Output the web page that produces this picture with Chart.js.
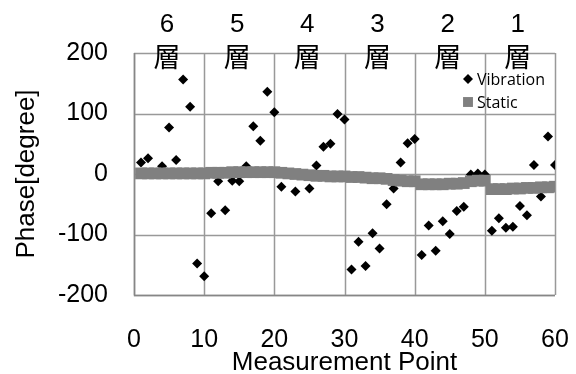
<!DOCTYPE html>
<html lang="ja">
<head>
  <meta charset="UTF-8">
  <title>Phase vs Measurement Point</title>
  <script src="https://cdn.jsdelivr.net/npm/chart.js"></script>
  <style>
    body { margin: 0; background: #fff; }
  </style>
</head>
<body>
  <canvas id="phaseChart" width="576" height="374"></canvas>

  <script>
    // measurement points 1..60
    const points = [1, 2, 3, 4, 5, 6, 7, 8, 9, 10,
      11, 12, 13, 14, 15, 16, 17, 18, 19, 20,
      21, 22, 23, 24, 25, 26, 27, 28, 29, 30,
      31, 32, 33, 34, 35, 36, 37, 38, 39, 40,
      41, 42, 43, 44, 45, 46, 47, 48, 49, 50,
      51, 52, 53, 54, 55, 56, 57, 58, 59, 60];

    const vibration = [19, 26, 2, 13, 77, 23, 156, 111, -148, -169,
      -65, -12, -60, -11, -12, 13, 79, 55, 136, 102,
      -21, 0, -29, 0, -24, 14, 45, 50, 99, 90,
      -158, -112, -152, -98, -123, -50, -24, 19, 51, 58,
      -134, -85, -127, -78, -99, -61, -54, -1, 1, -1,
      -94, -73, -89, -87, -53, -68, 15, -37, 62, 15];

    const staticPhase = [1, 1, 1, 1, 1, 1, 1, 1, 1, 1,
      2, 2, 2, 3, 3, 3, 3, 3, 3, 3,
      2, 1, 0, -1, -2, -3, -3, -4, -4, -4,
      -5, -5, -6, -7, -7, -8, -10, -11, -12, -12,
      -17, -17, -17, -17, -16, -16, -15, -12, -11, -11,
      -25, -25, -25, -24, -24, -23, -23, -22, -22, -21];

    const layers = ['6', '5', '4', '3', '2', '1'];
    const layerChar = '層';
    const xTicks = [0, 10, 20, 30, 40, 50, 60];
    const yTicks = [-200, -100, 0, 100, 200];

    const latin = '"Liberation Sans", Arial, sans-serif';

    // gridlines and frame, drawn from the scales' tick positions behind the points
    const plotGrid = {
      id: 'plotGrid',
      beforeDatasetsDraw(chart) {
        const ctx = chart.ctx;
        const xs = chart.scales.x;
        const ys = chart.scales.y;
        const a = chart.chartArea;
        ctx.save();
        ctx.lineWidth = 1.5;
        ctx.strokeStyle = '#999999';
        ctx.beginPath();
        xTicks.forEach(v => {
          const px = Math.round(xs.getPixelForValue(v)) + 0.5;
          ctx.moveTo(px, a.top);
          ctx.lineTo(px, a.bottom);
        });
        yTicks.forEach(v => {
          const py = Math.round(ys.getPixelForValue(v)) + 0.5;
          ctx.moveTo(a.left, py);
          ctx.lineTo(a.right, py);
        });
        ctx.stroke();
        // axis lines
        ctx.strokeStyle = '#868686';
        ctx.lineWidth = 1.5;
        ctx.beginPath();
        ctx.moveTo(Math.round(a.left) + 0.5, a.top);
        ctx.lineTo(Math.round(a.left) + 0.5, Math.round(a.bottom) + 0.5);
        ctx.lineTo(a.right, Math.round(a.bottom) + 0.5);
        ctx.stroke();
        ctx.restore();
      }
    };

    // layer captions above each block of ten points
    const layerLabels = {
      id: 'layerLabels',
      afterDraw(chart) {
        const ctx = chart.ctx;
        const xs = chart.scales.x;
        ctx.save();
        ctx.fillStyle = '#000';
        ctx.textAlign = 'center';
        ctx.textBaseline = 'middle';
        layers.forEach((name, i) => {
          const cx = xs.getPixelForValue(i * 10 + 4.7);
          ctx.font = '26px ' + latin;
          ctx.fillText(name, cx, 25);
          ctx.font = '27px "Noto Sans CJK JP", sans-serif';
          ctx.fillText(layerChar, cx, 57);
        });
        ctx.restore();
      }
    };

    // legend drawn inside the plot, top right
    const innerLegend = {
      id: 'innerLegend',
      afterDraw(chart) {
        const ctx = chart.ctx;
        const items = chart.data.datasets;
        ctx.save();
        ctx.font = '16px "Open Sans", sans-serif';
        ctx.textAlign = 'left';
        ctx.textBaseline = 'middle';
        items.forEach((ds, i) => {
          const y = 79 + i * 23;
          ctx.fillStyle = ds.backgroundColor;
          Chart.helpers.drawPoint(ctx, {
            pointStyle: ds.pointStyle,
            radius: ds.legendRadius,
            borderWidth: 0
          }, 468, y);
          ctx.fillStyle = '#000';
          ctx.fillText(ds.label, 477, y + 1);
        });
        ctx.restore();
      }
    };

    const ctx = document.getElementById('phaseChart').getContext('2d');
    new Chart(ctx, {
      type: 'scatter',
      data: {
        datasets: [
          {
            label: 'Vibration',
            data: points.map((p, i) => ({ x: p, y: vibration[i] })),
            pointStyle: 'rectRot',
            pointRadius: 5,
            legendRadius: 5,
            backgroundColor: '#000',
            borderColor: '#000',
            borderWidth: 0,
            order: 1
          },
          {
            label: 'Static',
            data: points.map((p, i) => ({ x: p, y: staticPhase[i] })),
            pointStyle: 'rect',
            pointRadius: 8.3,
            legendRadius: 7,
            backgroundColor: '#808080',
            borderColor: '#808080',
            borderWidth: 0,
            order: 0
          }
        ]
      },
      options: {
        responsive: false,
        animation: false,
        layout: { padding: { top: 53, right: 21, left: 4, bottom: 0 } },
        plugins: {
          legend: { display: false },
          tooltip: { enabled: false }
        },
        scales: {
          x: {
            type: 'linear',
            min: 0,
            max: 60,
            afterBuildTicks: (axis) => { axis.ticks = xTicks.map(v => ({ value: v })); },
            afterFit: (axis) => { axis.height = 79; axis.paddingRight = 0; axis.paddingLeft = 0; },
            grid: { display: false, drawTicks: false },
            border: { display: false },
            ticks: { color: '#000', padding: 30, font: { family: latin, size: 25 } },
            title: {
              display: true,
              text: 'Measurement Point',
              color: '#000',
              padding: { top: 0, bottom: -2 },
              font: { family: latin, size: 26, lineHeight: 1 }
            }
          },
          y: {
            min: -200,
            max: 200,
            afterBuildTicks: (axis) => { axis.ticks = yTicks.map(v => ({ value: v })); },
            afterFit: (axis) => { axis.width = 130; },
            grid: { display: false, drawTicks: false },
            border: { display: false },
            ticks: { color: '#000', padding: 26, font: { family: latin, size: 25 } },
            title: {
              display: true,
              text: 'Phase[degree]',
              color: '#000',
              padding: { top: 7, bottom: 0 },
              font: { family: latin, size: 26 }
            }
          }
        }
      },
      plugins: [plotGrid, layerLabels, innerLegend]
    });
  </script>
</body>
</html>
